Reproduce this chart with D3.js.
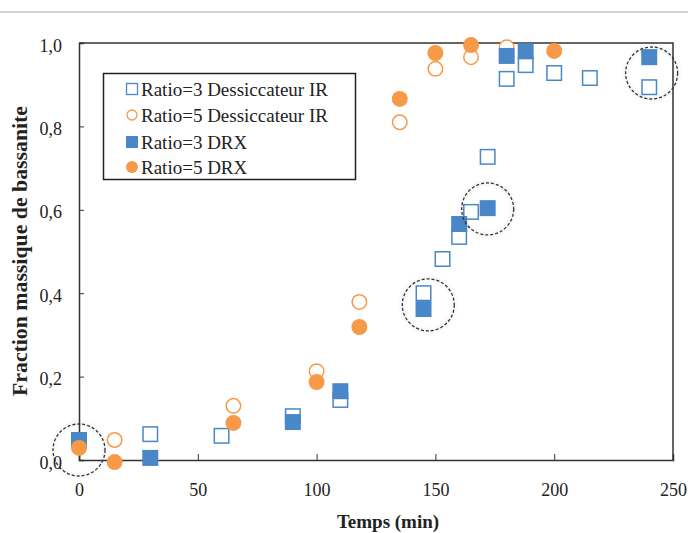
<!DOCTYPE html>
<html>
<head>
<meta charset="utf-8">
<script src="https://cdn.jsdelivr.net/npm/d3@7"></script>
<style>
  html, body { margin: 0; padding: 0; background: #fff; }
  svg { display: block; }
</style>
</head>
<body>
<script>
// ---- Data ----
const xTicks = [0, 50, 100, 150, 200, 250];
const yTicks = [0, 0.2, 0.4, 0.6, 0.8, 1.0];

const seriesNames = ["Ratio=3 Dessiccateur IR", "Ratio=5 Dessiccateur IR", "Ratio=3 DRX", "Ratio=5 DRX"];

const ir3X = [30, 60, 90, 110, 145, 153, 160, 165, 172, 180, 188, 200, 215, 240];
const ir3Y = [0.062, 0.058, 0.105, 0.144, 0.40, 0.482, 0.535, 0.595, 0.727, 0.914, 0.947, 0.928, 0.916, 0.894];

const ir5X = [15, 65, 100, 118, 135, 150, 165, 180];
const ir5Y = [0.048, 0.13, 0.213, 0.379, 0.81, 0.938, 0.966, 0.99];

const drx3X = [0, 30, 90, 110, 145, 160, 172, 180, 188, 240];
const drx3Y = [0.048, 0.005, 0.091, 0.165, 0.362, 0.566, 0.604, 0.969, 0.98, 0.966];

const drx5X = [0, 15, 65, 100, 118, 135, 150, 165, 200];
const drx5Y = [0.029, -0.005, 0.089, 0.187, 0.319, 0.866, 0.976, 0.995, 0.981];

// highlighted points (dashed circles): x, y in data units
const highlightX = [0, 147, 172, 241];
const highlightY = [0.024, 0.372, 0.602, 0.928];

// ---- Layout ----
const W = 688, H = 533;
const mLeft = 79, mRight = 673, mTop = 43, mBottom = 460;
const BLUE = "#4a87c8", ORANGE = "#f79a48";
const SERIF = "'Liberation Serif', 'Times New Roman', serif";

const svg = d3.select("body").append("svg").attr("width", W).attr("height", H);

// top grey rule
svg.append("line").attr("x1", 0).attr("x2", W).attr("y1", 12).attr("y2", 12)
  .attr("stroke", "#c4c4c4").attr("stroke-width", 1.5);

const x = d3.scaleLinear().domain([0, 250]).range([mLeft, mRight]);
const y = d3.scaleLinear().domain([0, 1]).range([mBottom, mTop]);
const fmt = d => d3.format(".1f")(d).replace(".", ",");

// frame (top & right)
svg.append("path")
  .attr("d", `M${mLeft},${mTop}H${mRight}V${mBottom}`)
  .attr("fill", "none").attr("stroke", "#333").attr("stroke-width", 1.5);

// axes
const xAxis = svg.append("g").attr("transform", `translate(0,${mBottom})`)
  .call(d3.axisBottom(x).tickValues(xTicks).tickSize(-6).tickPadding(23).tickFormat(d3.format("d")));
const yAxis = svg.append("g").attr("transform", `translate(${mLeft},0)`)
  .call(d3.axisLeft(y).tickValues(yTicks).tickSize(-5).tickPadding(17).tickFormat(fmt));

[xAxis, yAxis].forEach(g => {
  g.select(".domain").attr("stroke", "#333").attr("stroke-width", 1.5);
  g.selectAll(".tick line").attr("stroke", "#333").attr("stroke-width", 1);
  g.selectAll("text").attr("font-family", SERIF).attr("font-size", 18).attr("fill", "#222");
});
yAxis.selectAll(".tick text").attr("dy", "0.45em");

// axis titles
svg.append("text")
  .attr("transform", `translate(27,251) rotate(-90)`)
  .attr("text-anchor", "middle")
  .attr("font-family", SERIF).attr("font-weight", "bold").attr("font-size", 20).attr("fill", "#222")
  .attr("textLength", 290).attr("lengthAdjust", "spacingAndGlyphs")
  .text("Fraction massique de bassanite");
svg.append("text")
  .attr("x", 388).attr("y", 528)
  .attr("text-anchor", "middle")
  .attr("font-family", SERIF).attr("font-weight", "bold").attr("font-size", 19).attr("fill", "#222")
  .text("Temps (min)");

// shadow filter for dashed circles
const defs = svg.append("defs");
const f = defs.append("filter").attr("id", "halo").attr("x", "-30%").attr("y", "-30%").attr("width", "160%").attr("height", "160%");
f.append("feGaussianBlur").attr("in", "SourceAlpha").attr("stdDeviation", 2).attr("result", "b");
f.append("feComponentTransfer").attr("in", "b").attr("result", "c")
  .append("feFuncA").attr("type", "linear").attr("slope", 0.25);
const fm = f.append("feMerge");
fm.append("feMergeNode").attr("in", "c");
fm.append("feMergeNode").attr("in", "SourceGraphic");

const zip = (xs, ys) => xs.map((v, i) => ({ x: v, y: ys[i] }));
const S = 16, R = 8;

// open squares
svg.append("g").selectAll("rect").data(zip(ir3X, ir3Y)).join("rect")
  .attr("x", d => x(d.x) - S / 2 + 0.75).attr("y", d => y(d.y) - S / 2 + 0.75)
  .attr("width", S - 1.5).attr("height", S - 1.5)
  .attr("fill", "#fff").attr("stroke", BLUE).attr("stroke-width", 1.5);
// open circles
svg.append("g").selectAll("circle").data(zip(ir5X, ir5Y)).join("circle")
  .attr("cx", d => x(d.x)).attr("cy", d => y(d.y)).attr("r", R - 0.75)
  .attr("fill", "#fff").attr("stroke", ORANGE).attr("stroke-width", 1.5);
// filled squares
svg.append("g").selectAll("rect").data(zip(drx3X, drx3Y)).join("rect")
  .attr("x", d => x(d.x) - S / 2).attr("y", d => y(d.y) - S / 2)
  .attr("width", S).attr("height", S).attr("fill", BLUE);
// filled circles
svg.append("g").selectAll("circle").data(zip(drx5X, drx5Y)).join("circle")
  .attr("cx", d => x(d.x)).attr("cy", d => y(d.y)).attr("r", R).attr("fill", ORANGE);

// dashed highlight circles
svg.append("g").selectAll("circle").data(zip(highlightX, highlightY)).join("circle")
  .attr("cx", d => x(d.x)).attr("cy", d => y(d.y)).attr("r", 26)
  .attr("fill", "none").attr("stroke", "#333").attr("stroke-width", 1.3)
  .attr("stroke-dasharray", "3,2").attr("filter", "url(#halo)");

// legend
const lg = svg.append("g");
lg.append("rect").attr("x", 103.5).attr("y", 73.5).attr("width", 252).attr("height", 106)
  .attr("fill", "#fff").attr("stroke", "#222").attr("stroke-width", 1.5);
const rowY = [89, 115, 142, 167];
const markerX = 132;
seriesNames.forEach((name, i) => {
  const cy = rowY[i];
  if (i === 0) lg.append("rect").attr("x", markerX - 5.5).attr("y", cy - 5.5).attr("width", 11).attr("height", 11)
      .attr("fill", "#fff").attr("stroke", BLUE).attr("stroke-width", 1.3);
  if (i === 1) lg.append("circle").attr("cx", markerX).attr("cy", cy).attr("r", 5)
      .attr("fill", "#fff").attr("stroke", ORANGE).attr("stroke-width", 1.3);
  if (i === 2) lg.append("rect").attr("x", markerX - 6).attr("y", cy - 6).attr("width", 12).attr("height", 12).attr("fill", BLUE);
  if (i === 3) lg.append("circle").attr("cx", markerX).attr("cy", cy).attr("r", 6).attr("fill", ORANGE);
  lg.append("text").attr("x", 141).attr("y", cy).attr("dy", "0.36em")
    .attr("font-family", SERIF).attr("font-size", 19).attr("fill", "#222").text(name);
});
</script>
</body>
</html>
